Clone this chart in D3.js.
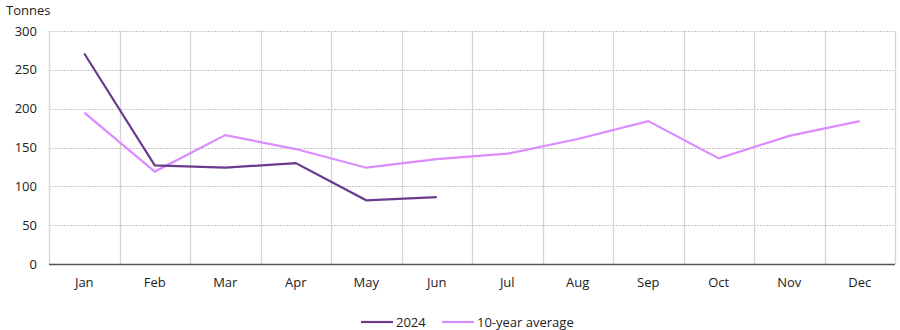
<!DOCTYPE html>
<html><head><meta charset="utf-8">
<script src="https://cdn.jsdelivr.net/npm/d3@7"></script>
<style>
body{margin:0;background:#fff;}
text{font-family:"Open Sans","Noto Sans",sans-serif;fill:#222;}
</style></head>
<body>
<svg id="c" width="900" height="330"></svg>
<script>
const months = ["Jan","Feb","Mar","Apr","May","Jun","Jul","Aug","Sep","Oct","Nov","Dec"];
const values2024 = [271, 127, 124, 130, 82, 86];
const valuesAvg = [195, 119, 166, 148, 124, 135, 142, 161, 184, 136, 165, 184];
const yTicks = [0, 50, 100, 150, 200, 250, 300];
const seriesNames = ["2024", "10-year average"];
const colors = ["#6b3a8c", "#dc8bff"];

const svg = d3.select("#c");
const L = 49, R = 895, T = 31, B = 264;
const x = d3.scaleBand().domain(months).range([L, R]);
const y = d3.scaleLinear().domain([0, 300]).range([B, T]);

// horizontal dotted gridlines
svg.append("g").selectAll("line").data(yTicks.filter(d => d > 0)).join("line")
  .attr("x1", L).attr("x2", R)
  .attr("y1", d => Math.round(y(d)) + 0.5).attr("y2", d => Math.round(y(d)) + 0.5)
  .attr("stroke", "#c8c8c8").attr("stroke-width", 1).attr("stroke-dasharray", "2,1");

// vertical gridlines at band boundaries
const bounds = months.map(m => x(m)).concat([R]);
svg.append("g").selectAll("line").data(bounds.slice(1)).join("line")
  .attr("x1", d => Math.round(d) + 0.5).attr("x2", d => Math.round(d) + 0.5)
  .attr("y1", T).attr("y2", B)
  .attr("stroke", "#d4d4d4").attr("stroke-width", 1.3);

// left axis line
svg.append("line").attr("x1", L + 0.5).attr("x2", L + 0.5).attr("y1", T).attr("y2", B)
  .attr("stroke", "#d4d4d4").attr("stroke-width", 1.3);

// baseline
svg.append("line").attr("x1", L).attr("x2", R).attr("y1", B + 0.5).attr("y2", B + 0.5)
  .attr("stroke", "#555").attr("stroke-width", 1.3);

// y labels
svg.append("g").selectAll("text").data(yTicks).join("text")
  .attr("x", 37).attr("y", d => y(d)).attr("dy", "0.35em")
  .attr("text-anchor", "end").attr("font-size", 13).text(d => d);

// x labels
svg.append("g").selectAll("text").data(months).join("text")
  .attr("x", d => x(d) + x.bandwidth() / 2).attr("y", 287)
  .attr("text-anchor", "middle").attr("font-size", 13).text(d => d);

// unit label
svg.append("text").attr("x", 6).attr("y", 15).attr("font-size", 13).text("Tonnes");

const line = d3.line().x((d, i) => x(months[i]) + x.bandwidth() / 2).y(d => y(d));

svg.append("path").datum(valuesAvg).attr("d", line)
  .attr("fill", "none").attr("stroke", colors[1]).attr("stroke-width", 2.2);
svg.append("path").datum(values2024).attr("d", line)
  .attr("fill", "none").attr("stroke", colors[0]).attr("stroke-width", 2.2);

// legend
const leg = [{x: 361, tx: 396}, {x: 442, tx: 477}];
seriesNames.forEach((n, i) => {
  svg.append("line").attr("x1", leg[i].x).attr("x2", leg[i].x + 32)
    .attr("y1", 322).attr("y2", 322).attr("stroke", colors[i]).attr("stroke-width", 2.2);
  svg.append("text").attr("x", leg[i].tx).attr("y", 322).attr("dy", "0.35em")
    .attr("font-size", 13).text(n);
});
</script>
</body></html>
